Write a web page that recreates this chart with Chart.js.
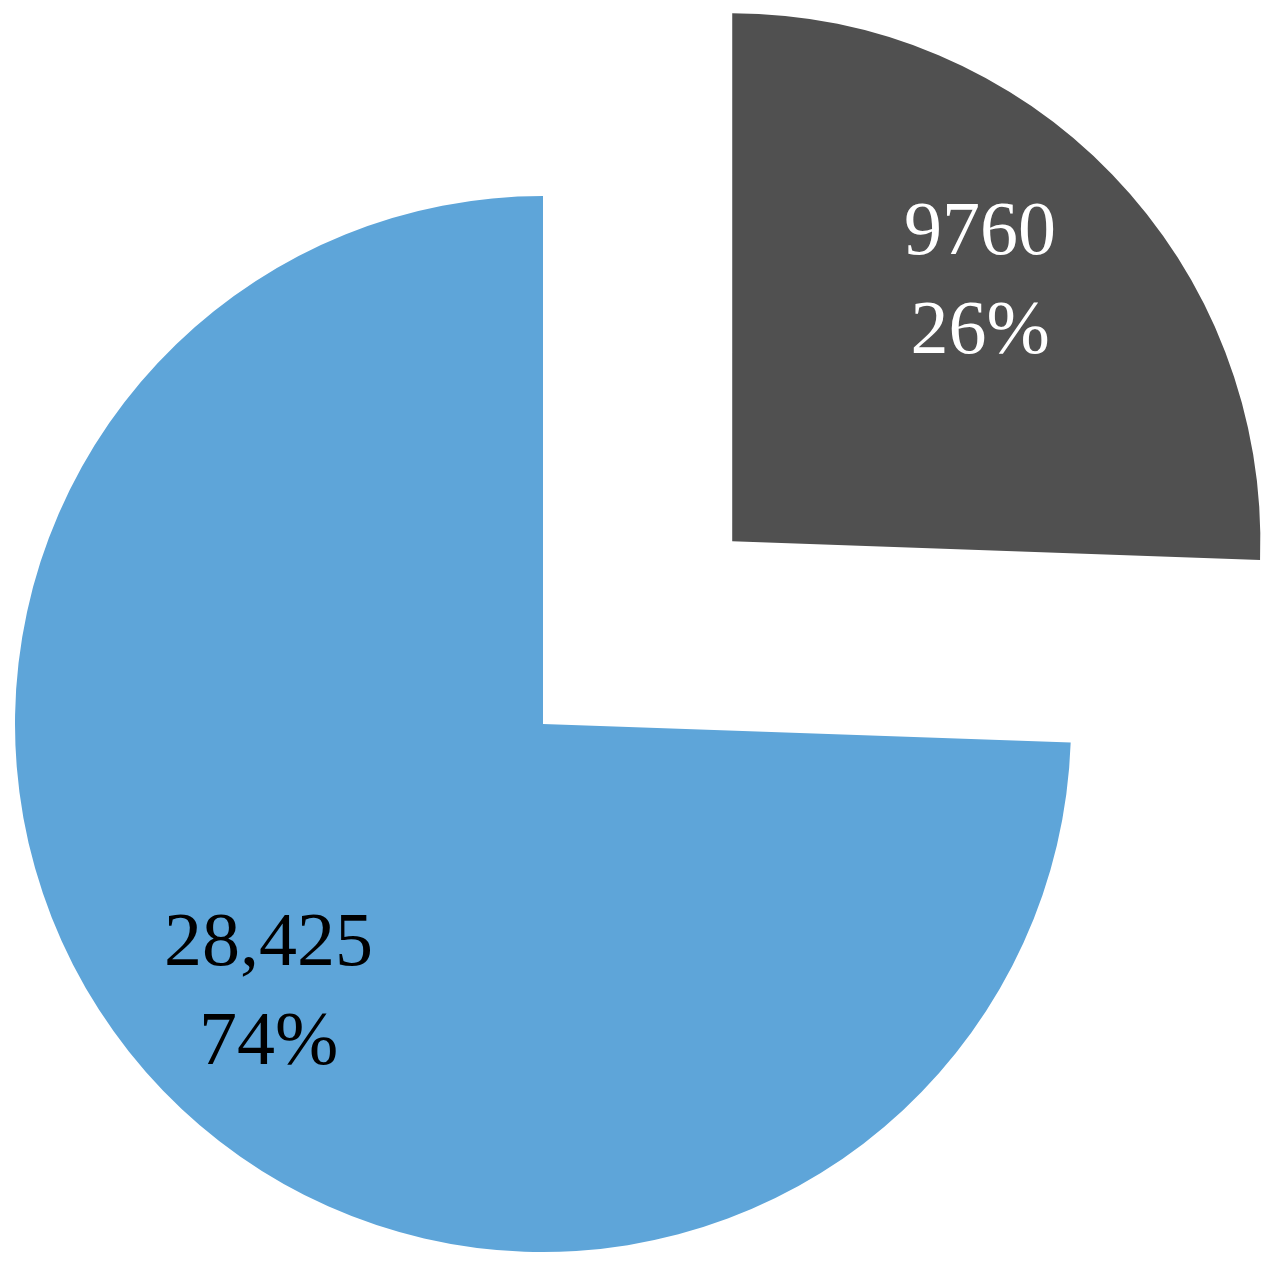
<!DOCTYPE html>
<html>
<head>
<meta charset="utf-8">
<script src="https://cdn.jsdelivr.net/npm/chart.js@4.4.0/dist/chart.umd.min.js"></script>
<style>
  html, body { margin: 0; padding: 0; background: #ffffff; }
  #wrap { width: 1283px; height: 1279px; }
</style>
</head>
<body>
<div id="wrap"><canvas id="pieChart" width="1283" height="1279"></canvas></div>
<script>
// Slice data (clockwise from 12 o'clock)
const categories = ['A', 'B'];
const values = [9760, 28425];
const valueLabels = ['9760', '28,425'];
const sliceColors = ['rgb(80, 80, 80)', 'rgb(94, 165, 217)'];
const labelColors = ['#ffffff', '#000000'];
const sliceOffsets = [1052, 0];     // arc offset (drawn at 1/4 in v4)
const labelRadius = [0.684, 0.725];  // fraction of radius for labels
const labelNudge = [[-12, -14], [1, -3]];

// draw value + percent inside each slice
const sliceLabels = {
    id: 'sliceLabels',
    afterDatasetsDraw(chart) {
        const ctx = chart.ctx;
        const meta = chart.getDatasetMeta(0);
        const total = values.reduce((a, b) => a + b, 0);
        ctx.save();
        ctx.font = '76px "Liberation Serif", "Times New Roman", serif';
        ctx.textAlign = 'center';
        ctx.textBaseline = 'alphabetic';
        meta.data.forEach((arc, i) => {
            const p = arc.getProps(['x', 'y', 'startAngle', 'endAngle', 'outerRadius'], true);
            const mid = (p.startAngle + p.endAngle) / 2;
            const dist = sliceOffsets[i] / 4 + p.outerRadius * labelRadius[i];
            const cx = p.x + Math.cos(mid) * dist + labelNudge[i][0];
            const cy = p.y + Math.sin(mid) * dist + labelNudge[i][1];
            ctx.fillStyle = labelColors[i];
            ctx.fillText(valueLabels[i], cx, cy - 22);
            ctx.fillText(Math.round(values[i] / total * 100) + '%', cx, cy + 77);
        });
        ctx.restore();
    }
};

const ctx = document.getElementById('pieChart').getContext('2d');
const pieChart = new Chart(ctx, {
    type: 'pie',
    data: {
        labels: categories,
        datasets: [{
            data: values,
            backgroundColor: sliceColors,
            borderWidth: 0,
            offset: sliceOffsets,
            hoverOffset: 0,
            clip: false
        }]
    },
    options: {
        responsive: false,
        animation: false,
        radius: 528,
        layout: {
            padding: { left: 0, right: 197, top: 169, bottom: 0 }
        },
        plugins: {
            legend: { display: false },
            tooltip: { enabled: false }
        }
    },
    plugins: [sliceLabels]
});
</script>
</body>
</html>
